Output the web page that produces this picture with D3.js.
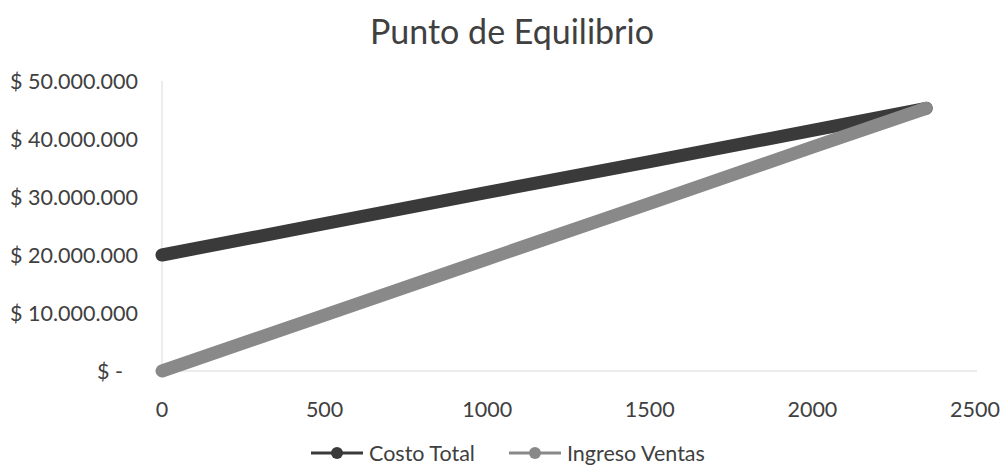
<!DOCTYPE html>
<html><head><meta charset="utf-8">
<script src="https://cdn.jsdelivr.net/npm/d3@7"></script>
<style>body{margin:0;background:#fff}svg{display:block}text{font-family:Lato,"Open Sans",sans-serif;fill:#404040}</style>
</head><body><svg id="c" width="1004" height="468"></svg>
<script>
const title = "Punto de Equilibrio";
const unidades = [0, 500, 1000, 1500, 2000, 2350];
const costoTotal = [20000000, 25400000, 30800000, 36100000, 41500000, 45300000];
const ingresoVentas = [0, 9650000, 19300000, 28900000, 38600000, 45300000];
const xTicks = [0, 500, 1000, 1500, 2000, 2500];
const yTicks = [0, 10000000, 20000000, 30000000, 40000000, 50000000];
const seriesNames = ["Costo Total", "Ingreso Ventas"];
const colors = ["#3a3a3a", "#898989"];

const svg = d3.select("#c");
const x = d3.scaleLinear().domain([0, 2500]).range([162, 975]);
const y = d3.scaleLinear().domain([0, 50000000]).range([371, 81]);

function fmt(v){
  return "$ " + d3.format(",")(v).replace(/,/g, ".");
}

// axes lines
svg.append("line").attr("x1", x(0)).attr("x2", x(0)).attr("y1", y(50000000)).attr("y2", y(0)).attr("stroke", "#d9d9d9").attr("stroke-width", 1);
svg.append("line").attr("x1", x(0)).attr("x2", x(2500)+2).attr("y1", y(0)).attr("y2", y(0)).attr("stroke", "#d9d9d9").attr("stroke-width", 1);

const fs = 21.5;
// y labels
svg.append("g").selectAll("text").data(yTicks).join("text")
  .attr("x", d => d === 0 ? 123 : 138).attr("y", d => y(d)).attr("dy", "0.35em")
  .attr("text-anchor", "end").style("font-size", fs + "px").text(d => d === 0 ? "$ -" : fmt(d));
// x labels
svg.append("g").selectAll("text").data(xTicks).join("text")
  .attr("x", d => x(d)).attr("y", 409).attr("dy", "0.35em")
  .attr("text-anchor", "middle").style("font-size", fs + "px").text(d => d);

// title
svg.append("text").attr("x", 512).attr("y", 32).attr("dy", "0.35em").attr("text-anchor", "middle")
  .style("font-size", "34px").text(title);

const line = d3.line().x(d => x(d[0])).y(d => y(d[1]));
const data = [costoTotal, ingresoVentas].map(s => unidades.map((u, i) => [u, s[i]]));
data.forEach((d, i) => {
  svg.append("path").datum(d).attr("d", line).attr("fill", "none")
    .attr("stroke", colors[i]).attr("stroke-width", 13)
    .attr("stroke-linecap", "round").attr("stroke-linejoin", "round");
});

// legend
const leg = [{x0: 311, name: seriesNames[0], c: colors[0]}, {x0: 509, name: seriesNames[1], c: colors[1]}];
leg.forEach(l => {
  const g = svg.append("g");
  g.append("line").attr("x1", l.x0).attr("x2", l.x0 + 52).attr("y1", 453).attr("y2", 453).attr("stroke", l.c).attr("stroke-width", 3);
  g.append("circle").attr("cx", l.x0 + 26).attr("cy", 453).attr("r", 6).attr("fill", l.c);
  g.append("text").attr("x", l.x0 + 58).attr("y", 453).attr("dy", "0.35em").style("font-size", fs + "px").text(l.name);
});
</script></body></html>
